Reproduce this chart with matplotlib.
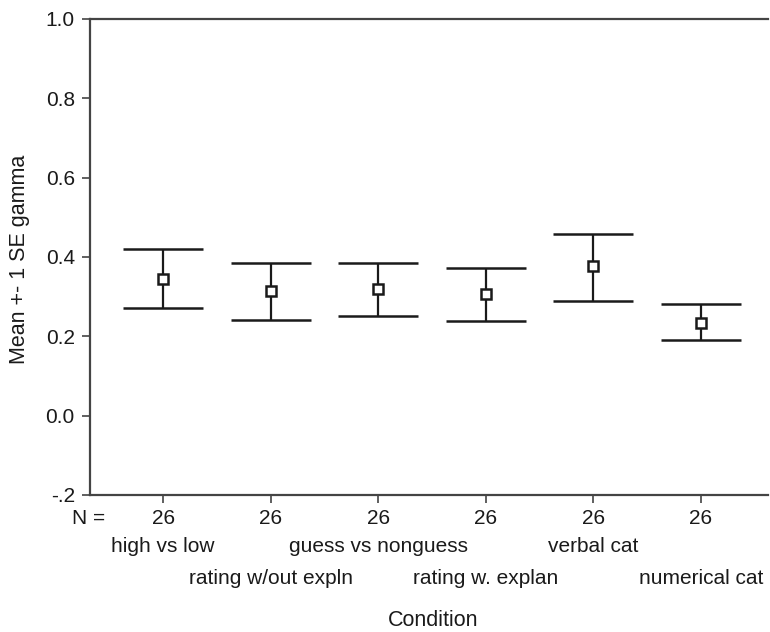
import matplotlib.pyplot as plt
import matplotlib.transforms as mtransforms

plt.rcParams['font.family'] = ['Liberation Sans', 'DejaVu Sans']

# ----------------------------------------------------------------------
# Data
# ----------------------------------------------------------------------
conditions = ["high vs low", "rating w/out expln", "guess vs nonguess",
              "rating w. explan", "verbal cat", "numerical cat"]
n_counts = [26, 26, 26, 26, 26, 26]
means = [0.345, 0.314, 0.319, 0.307, 0.377, 0.234]
upper = [0.420, 0.385, 0.385, 0.372, 0.457, 0.282]
lower = [0.272, 0.241, 0.251, 0.239, 0.288, 0.190]
ytick_vals = [-0.2, 0.0, 0.2, 0.4, 0.6, 0.8, 1.0]
ytick_labels = ["-.2", "0.0", "0.2", "0.4", "0.6", "0.8", "1.0"]

# ----------------------------------------------------------------------
# Plot
# ----------------------------------------------------------------------
fig = plt.figure(figsize=(7.7, 6.32), dpi=100)
ax = fig.add_axes([0.117, 0.217, 0.880, 0.753])

xs = list(range(1, len(conditions) + 1))
err_lo = [m - l for m, l in zip(means, lower)]
err_hi = [u - m for m, u in zip(means, upper)]

ink = "#1a1a1a"
ax.errorbar(xs, means, yerr=[err_lo, err_hi], fmt="s", color=ink,
            ecolor=ink, elinewidth=1.6, capsize=28.5, capthick=2.2,
            markersize=6.5, markerfacecolor="white", markeredgewidth=1.8,
            markeredgecolor=ink)

ax.set_xlim(0.32, 6.62)
ax.set_ylim(-0.2, 1.0)
ax.set_yticks(ytick_vals)
ax.set_yticklabels(ytick_labels)
ax.set_xticks(xs)
ax.set_xticklabels([str(n) for n in n_counts])

for side in ["left", "bottom", "top"]:
    ax.spines[side].set_color("#444444")
    ax.spines[side].set_linewidth(1.6)
ax.spines["right"].set_visible(False)

ax.tick_params(axis="both", colors="#444444", labelcolor=ink,
               labelsize=15, length=6, width=1.2, direction="out")
ax.tick_params(axis="x", pad=4)
ax.tick_params(axis="y", pad=5)

trans = mtransforms.blended_transform_factory(ax.transData, fig.transFigure)
for i, (x, name) in enumerate(zip(xs, conditions)):
    y = 1 - 546 / 632 if i % 2 == 0 else 1 - 578 / 632
    ax.text(x, y, name, transform=trans, ha="center", va="center",
            fontsize=15, color=ink)

fig.text(105 / 770, 1 - 519 / 632, "N =", ha="right", va="center",
         fontsize=15, color=ink)
fig.text(433 / 770, 1 - 621 / 632, "Condition", ha="center", va="center",
         fontsize=15.5, color=ink)
fig.text(20 / 770, 1 - 259 / 632, "Mean +- 1 SE gamma", ha="center",
         va="center", rotation=90, fontsize=15.5, color=ink)

fig.savefig("out.png", dpi=100)
